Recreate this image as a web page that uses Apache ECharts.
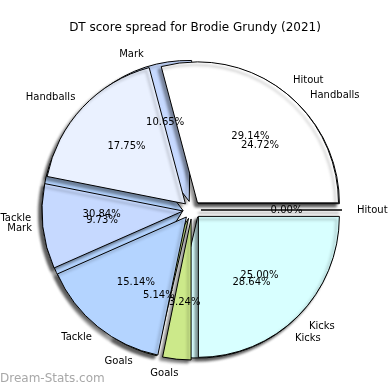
<!DOCTYPE html>
<html>
<head>
<meta charset="utf-8">
<script src="https://cdn.jsdelivr.net/npm/echarts@6/dist/echarts.min.js"></script>
<style>html,body{margin:0;padding:0;background:#fff;}#c{width:390px;height:390px;}</style>
</head>
<body>
<div id="c"></div>
<script>
// Data (percent of DT score)
const labelsA = ['Hitout', 'Handballs', 'Mark', 'Tackle', 'Goals', 'Kicks'];
const valuesA = [29.14, 17.75, 9.73, 15.14, 3.24, 25.00];
const labelsB = ['Handballs', 'Mark', 'Tackle', 'Goals', 'Kicks', 'Hitout'];
const valuesB = [24.72, 10.65, 30.84, 5.14, 28.64, 0.00];
const titleText = 'DT score spread for Brodie Grundy (2021)';
const watermark = 'Dream-Stats.com';

const colorMap = {
  Hitout: '#ffffff', Handballs: '#eaf1ff', Mark: '#c6d9ff',
  Tackle: '#b4d4ff', Goals: '#cce98a', Kicks: '#d8ffff'
};
const FONT = 'DejaVu Sans';
const CX = 192, CY = 210, R = 141, OFF = 9;

function mainSeries(labels, values) {
  return {
    type: 'pie', center: [CX, CY], radius: R,
    startAngle: 0, clockwise: false,
    selectedMode: 'multiple', selectedOffset: OFF,
    avoidLabelOverlap: false, animation: false, silent: true,
    labelLayout: { hideOverlap: false },
    emphasis: { disabled: true },
    itemStyle: { borderColor: '#000', borderWidth: 1,
      shadowColor: 'rgba(0,0,0,0.4)', shadowBlur: 3, shadowOffsetX: -3, shadowOffsetY: 3 },
    label: { show: true, position: 'outside', formatter: '{b}', fontSize: 10,
      color: '#000', fontFamily: FONT, distanceToLabelLine: -3, overflow: 'none',
      padding: [2, 0, 0, 4] },
    labelLine: { show: false, length: 14, length2: 0 },
    data: labels.map((n, i) => ({ name: n, value: values[i], selected: true,
      itemStyle: { color: colorMap[n] } }))
  };
}
function pctSeries(labels, values) {
  return {
    type: 'pie', center: [CX, CY], radius: 161,
    startAngle: 0, clockwise: false,
    selectedMode: 'multiple', selectedOffset: OFF,
    avoidLabelOverlap: false, animation: false, silent: true,
    labelLayout: { hideOverlap: false },
    emphasis: { disabled: true },
    itemStyle: { color: 'rgba(0,0,0,0)', borderWidth: 0 },
    label: { show: true, position: 'inside', fontSize: 10, color: '#000',
      fontFamily: FONT, padding: [4, 0, 0, 4],
      formatter: p => p.value.toFixed(2) + '%' },
    labelLine: { show: false },
    data: labels.map((n, i) => ({ name: n, value: values[i], selected: true }))
  };
}

const chart = echarts.init(document.getElementById('c'), null, { renderer: 'canvas' });
chart.setOption({
  backgroundColor: '#fff',
  animation: false,
  title: { text: titleText, left: 'center', top: 17,
    textStyle: { fontSize: 12, fontWeight: 'normal', color: '#000', fontFamily: FONT } },
  graphic: [{ type: 'text', left: 0, top: 373,
    style: { text: watermark, fontSize: 12, fill: '#a8a8a8', fontFamily: FONT } }],
  series: [
    mainSeries(labelsB, valuesB),
    mainSeries(labelsA, valuesA),
    pctSeries(labelsB, valuesB),
    pctSeries(labelsA, valuesA)
  ]
});
</script>
</body>
</html>
